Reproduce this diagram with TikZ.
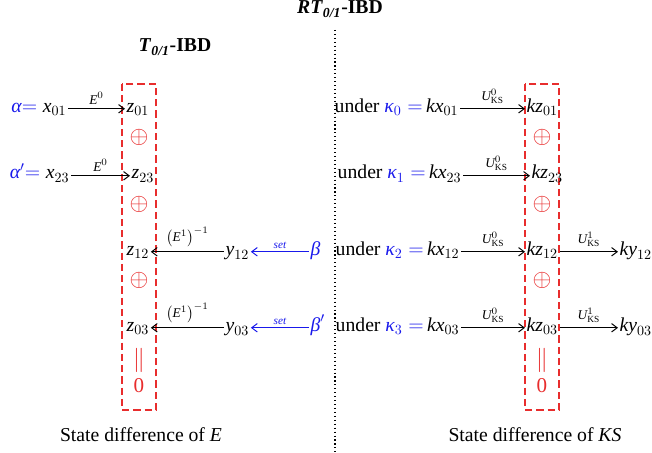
\documentclass[tikz,border=0pt]{standalone}
\usepackage{fontspec}
\setmainfont{Liberation Serif}
\usetikzlibrary{arrows.meta,positioning}
\definecolor{boxred}{RGB}{232,45,45}
\definecolor{keyblue}{RGB}{25,25,235}
\newcommand{\iv}[1]{\textit{#1}}

\begin{document}
\begin{tikzpicture}[
  x=0.025cm, y=-0.025cm,
  font=\fontsize{14}{16}\selectfont,
  varnode/.style={inner sep=1pt},
  redsym/.style={text=boxred, inner sep=0pt, font=\fontsize{17}{20}\selectfont},
  redzero/.style={text=boxred, inner sep=0pt, font=\fontsize{15}{18}\selectfont},
  maparrow/.style={-{Straight Barb[length=4pt,width=6pt]}, line width=0.7pt},
  arrowlabel/.style={above, inner sep=3pt, font=\fontsize{9.5}{11}\selectfont},
  setlabel/.style={above, inner sep=2pt, font=\fontsize{8}{9}\selectfont\itshape},
  diffbox/.style={draw=boxred, line width=0.9pt, dash pattern=on 5pt off 3pt}
]
\useasboundingbox (0,0) rectangle (652,453);

% Titles
\node[anchor=base] (rttitle) at (340,14) {\textbf{\textit{RT}\textsubscript{\textit{0/1}}-IBD}};
\node[anchor=base] (ttitle) at (175,52) {\textbf{\textit{T}\textsubscript{\textit{0/1}}-IBD}};

% Separator
\draw[dotted, line width=0.8pt] (335,30) -- (335,453);

% Left part: state difference of E
\draw[diffbox] (122,84) rectangle (156,410);

\node[varnode, anchor=base east] (ax01) at (68,112) {$\textcolor{keyblue}{\iv{α}{=}}\;\iv{x}_{01}$};
\node[varnode, anchor=base west] (z01) at (125,112) {$\iv{z}_{01}$};
\draw[maparrow] (ax01.mid east) -- node[arrowlabel] {$\iv{E}^{0}$} (z01.mid west);

\node[varnode, anchor=base east] (ax23) at (71,179) {$\textcolor{keyblue}{\iv{α}'{=}}\;\iv{x}_{23}$};
\node[varnode, anchor=base west] (z23) at (130,179) {$\iv{z}_{23}$};
\draw[maparrow] (ax23.mid east) -- node[arrowlabel] {$\iv{E}^{0}$} (z23.mid west);

\node[varnode, anchor=base west] (z12) at (125,255) {$\iv{z}_{12}$};
\node[varnode, anchor=base west] (y12) at (224,255) {$\iv{y}_{12}$};
\node[varnode, anchor=base west, text=keyblue] (beta) at (309,255) {\iv{β}};
\draw[maparrow] (y12.mid west) -- node[arrowlabel] {$\left(\iv{E}^{1}\right)^{-1}$} (z12.mid east);
\draw[maparrow, keyblue] (beta.mid west) -- node[setlabel] {set} (y12.mid east);

\node[varnode, anchor=base west] (z03) at (125,331) {$\iv{z}_{03}$};
\node[varnode, anchor=base west] (y03) at (224,331) {$\iv{y}_{03}$};
\node[varnode, anchor=base west, text=keyblue] (betap) at (309,331) {$\iv{β}'$};
\draw[maparrow] (y03.mid west) -- node[arrowlabel] {$\left(\iv{E}^{1}\right)^{-1}$} (z03.mid east);
\draw[maparrow, keyblue] (betap.mid west) -- node[setlabel] {set} (y03.mid east);

\node[redsym] (lop1) at (139,137) {$\oplus$};
\node[redsym] (lop2) at (139,204) {$\oplus$};
\node[redsym] (lop3) at (139,280) {$\oplus$};
\node[redsym] (leq) at (139,360) {$\|$};
\node[redzero] (lzero) at (139,386) {0};

\node[anchor=base] (ldiff) at (141,441) {State difference of \iv{E}};

% Right part: state difference of KS
\draw[diffbox] (525,84) rectangle (559,410);

\node[varnode, anchor=base east] (k0) at (460,112) {under $\textcolor{keyblue}{\iv{κ}_{0}=}\,\iv{kx}_{01}$};
\node[varnode, anchor=base west] (kz01) at (525,112) {$\iv{kz}_{01}$};
\draw[maparrow] (k0.mid east) -- node[arrowlabel] {$\iv{U}^{0}_{\mathrm{KS}}$} (kz01.mid west);

\node[varnode, anchor=base east] (k1) at (463,179) {under $\textcolor{keyblue}{\iv{κ}_{1}=}\,\iv{kx}_{23}$};
\node[varnode, anchor=base west] (kz23) at (530,179) {$\iv{kz}_{23}$};
\draw[maparrow] (k1.mid east) -- node[arrowlabel] {$\iv{U}^{0}_{\mathrm{KS}}$} (kz23.mid west);

\node[varnode, anchor=base east] (k2) at (461,255) {under $\textcolor{keyblue}{\iv{κ}_{2}=}\,\iv{kx}_{12}$};
\node[varnode, anchor=base west] (kz12) at (525,255) {$\iv{kz}_{12}$};
\node[varnode, anchor=base west] (ky12) at (618,255) {$\iv{ky}_{12}$};
\draw[maparrow] (k2.mid east) -- node[arrowlabel] {$\iv{U}^{0}_{\mathrm{KS}}$} (kz12.mid west);
\draw[maparrow] (kz12.mid east) -- node[arrowlabel] {$\iv{U}^{1}_{\mathrm{KS}}$} (ky12.mid west);

\node[varnode, anchor=base east] (k3) at (461,331) {under $\textcolor{keyblue}{\iv{κ}_{3}=}\,\iv{kx}_{03}$};
\node[varnode, anchor=base west] (kz03) at (525,331) {$\iv{kz}_{03}$};
\node[varnode, anchor=base west] (ky03) at (618,331) {$\iv{ky}_{03}$};
\draw[maparrow] (k3.mid east) -- node[arrowlabel] {$\iv{U}^{0}_{\mathrm{KS}}$} (kz03.mid west);
\draw[maparrow] (kz03.mid east) -- node[arrowlabel] {$\iv{U}^{1}_{\mathrm{KS}}$} (ky03.mid west);

\node[redsym] (rop1) at (542,137) {$\oplus$};
\node[redsym] (rop2) at (542,204) {$\oplus$};
\node[redsym] (rop3) at (542,280) {$\oplus$};
\node[redsym] (req) at (542,360) {$\|$};
\node[redzero] (rzero) at (542,386) {0};

\node[anchor=base] (rdiff) at (535,441) {State difference of \iv{KS}};
\end{tikzpicture}
\end{document}
